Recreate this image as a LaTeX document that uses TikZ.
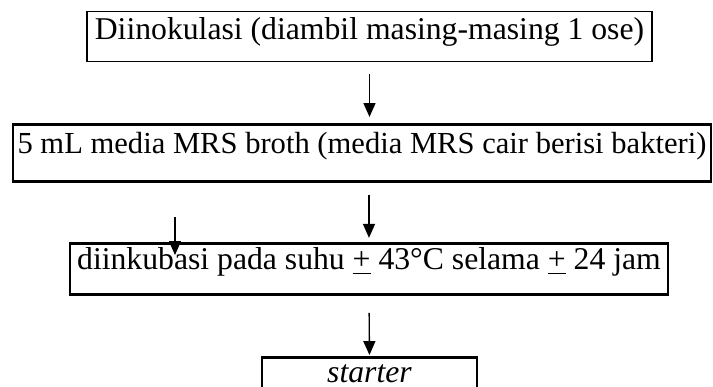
\documentclass[tikz,border=0pt]{standalone}
\usepackage{fontspec}
\setmainfont{Liberation Serif}
\usetikzlibrary{arrows.meta}
\newlength\pu
\setlength\pu{0.3155pt}
\tikzset{
    stepbox/.style={draw, rectangle, inner xsep=0pt, inner ysep=0pt, line width=0.85pt},
    flow/.style={line width=0.42pt, -{Triangle[width=3.8pt, length=4.4pt]}}
}
\begin{document}
\begin{tikzpicture}[x=\pu, y=-\pu]

    \useasboundingbox (0, 0) rectangle (713, 387);

    % Kotak
    \node[stepbox, line width=0.35pt, anchor=north, minimum width=565\pu, text height=28\pu, text depth=22\pu] (inok) at (369.5, 11) {Diinokulasi (diambil masing-masing 1 ose)};
    \node[stepbox, anchor=north, minimum width=698\pu, text height=29\pu, text depth=28\pu, font=\fontsize{9.65pt}{11pt}\selectfont] (mrs) at (362, 123) {5 mL media MRS broth (media MRS cair berisi bakteri)};
    \node[stepbox, anchor=north, minimum width=598\pu, text height=26\pu, text depth=25\pu] (inkub) at (369, 242) {diinkubasi pada suhu \underline{+} 43\textdegree C selama \underline{+} 24 jam};
    \node[stepbox, anchor=north, minimum width=215\pu, text height=25\pu, text depth=25\pu] (starter) at (369.5, 356) {\textit{starter}};

    % Panah
    \draw[flow, shorten <=3.8pt, shorten >=1.9pt] (inok.south) -- (inok.south |- mrs.north);
    \draw[flow, shorten <=3.8pt, shorten >=1.3pt] (inkub.north |- mrs.south) -- (inkub.north);
    \draw[flow, shorten <=5.4pt, shorten >=0.3pt] (inkub.south) -- (starter.north);

    \coordinate (lepas) at (175, 217);
    \draw[flow] (lepas) -- ++(0, 38);

\end{tikzpicture}
\end{document}
